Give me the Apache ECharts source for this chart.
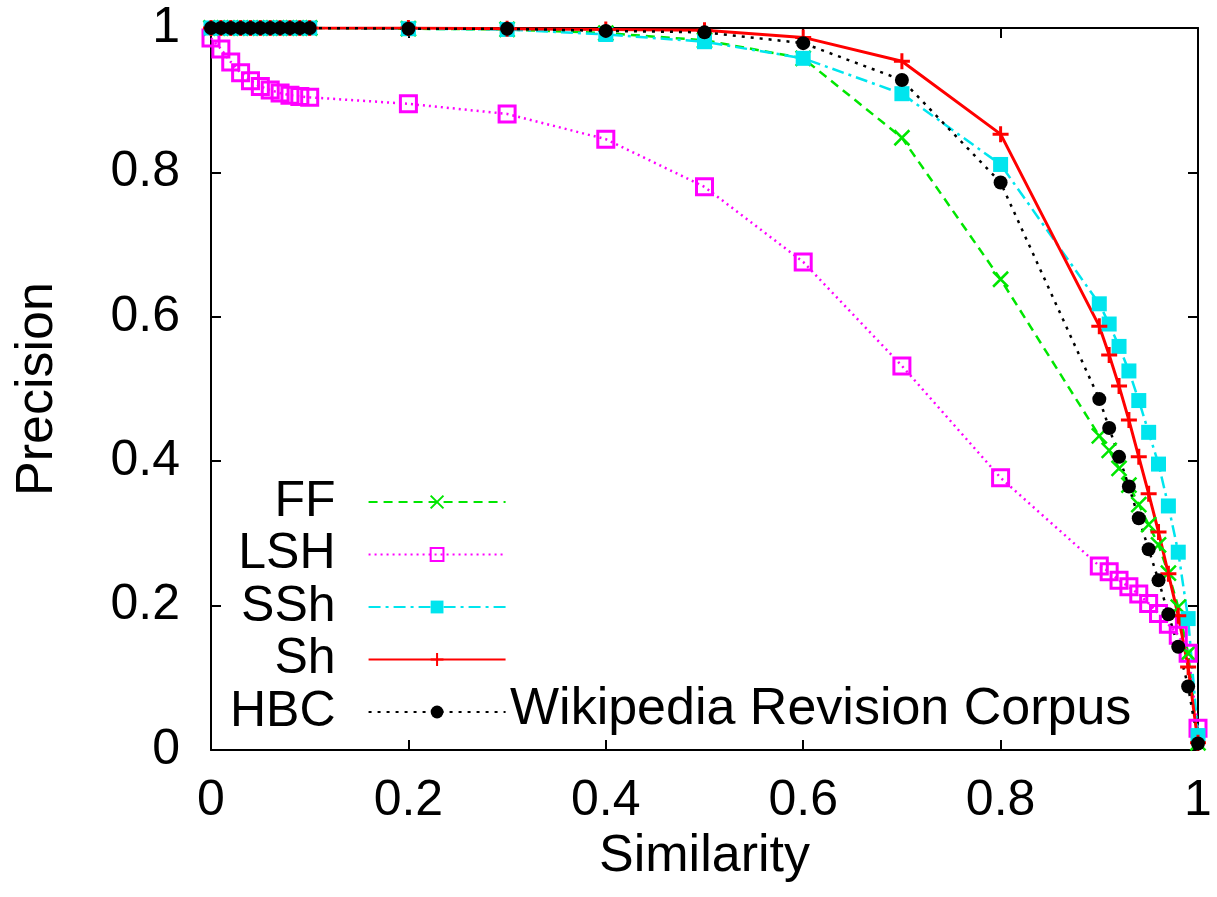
<!DOCTYPE html>
<html>
<head>
<meta charset="utf-8">
<script src="https://cdn.jsdelivr.net/npm/echarts@6/dist/echarts.min.js"></script>
<style>
  html, body { margin: 0; padding: 0; background: #fff; }
  #chart { width: 1217px; height: 897px; }
</style>
</head>
<body>
<div id="chart"></div>
<script>
// similarity thresholds (x)
const similarity = [0, 0.01, 0.02, 0.03, 0.04, 0.05, 0.06, 0.07, 0.08, 0.09, 0.1,
  0.2, 0.3, 0.4, 0.5, 0.6, 0.7, 0.8,
  0.9, 0.91, 0.92, 0.93, 0.94, 0.95, 0.96, 0.97, 0.98, 0.99, 1];

// precision per method
const ffPrec = [1, 1, 1, 1, 1, 1, 1, 1, 1, 1, 1,
  0.999, 0.998, 0.993, 0.983, 0.958, 0.848, 0.652,
  0.435, 0.415, 0.39, 0.367, 0.34, 0.312, 0.284, 0.245, 0.198, 0.134, 0.01];
const lshPrec = [0.986, 0.971, 0.953, 0.938, 0.927, 0.919, 0.914, 0.91, 0.907, 0.905, 0.904,
  0.895, 0.881, 0.846, 0.78, 0.676, 0.532, 0.377,
  0.255, 0.247, 0.235, 0.226, 0.216, 0.203, 0.189, 0.174, 0.159, 0.134, 0.03];
const sshPrec = [1, 1, 1, 1, 1, 1, 1, 1, 1, 1, 1,
  0.999, 0.998, 0.991, 0.981, 0.958, 0.909, 0.811,
  0.618, 0.59, 0.559, 0.525, 0.484, 0.44, 0.396, 0.338, 0.274, 0.182, 0.02];
const shPrec = [1, 1, 1, 1, 1, 1, 1, 1, 1, 1, 1,
  1, 0.999, 0.998, 0.997, 0.987, 0.954, 0.853,
  0.587, 0.547, 0.504, 0.457, 0.406, 0.355, 0.302, 0.244, 0.186, 0.115, 0.01];
const hbcPrec = [1, 1, 1, 1, 1, 1, 1, 1, 1, 1, 1,
  0.999, 0.999, 0.996, 0.994, 0.979, 0.928, 0.786,
  0.486, 0.446, 0.406, 0.365, 0.321, 0.278, 0.235, 0.188, 0.143, 0.088, 0.009];

const methods = ['FF', 'LSH', 'SSh', 'Sh', 'HBC'];
const corpusName = 'Wikipedia Revision Corpus';

const FONT = '"Liberation Sans", Arial, sans-serif';

function pairs(ys) {
  return similarity.map((x, i) => [x, ys[i]]);
}

const chart = echarts.init(document.getElementById('chart'));

const axisBase = {
  type: 'value',
  min: 0,
  max: 1,
  interval: 0.2,
  axisLine: { show: true, onZero: false, lineStyle: { color: '#000', width: 2 } },
  axisTick: { show: true, inside: true, length: 10, lineStyle: { color: '#000', width: 2 } },
  splitLine: { show: false }
};

const option = {
  backgroundColor: '#fff',
  animation: false,
  textStyle: { fontFamily: FONT },
  title: {
    text: corpusName,
    left: 505,
    top: 679,
    textStyle: { fontFamily: FONT, fontSize: 52, fontWeight: 'normal', color: '#000' }
  },
  grid: { left: 211, right: 19, top: 28, bottom: 147 },
  legend: {
    orient: 'vertical',
    left: 225,
    top: 472,
    align: 'right',
    itemWidth: 137,
    itemHeight: 16,
    itemGap: 2.5,
    textStyle: {
      fontFamily: FONT, fontSize: 50, color: '#000', lineHeight: 50,
      padding: [0, 28, 0, 0]
    },
    data: methods
  },
  xAxis: [
    Object.assign({}, axisBase, {
      position: 'bottom',
      name: 'Similarity',
      nameLocation: 'middle',
      nameGap: 66,
      nameTextStyle: { fontFamily: FONT, fontSize: 52, color: '#000' },
      axisLabel: { fontFamily: FONT, fontSize: 50, color: '#000', margin: 26 }
    }),
    Object.assign({}, axisBase, { position: 'top', axisLabel: { show: false } })
  ],
  yAxis: [
    Object.assign({}, axisBase, {
      position: 'left',
      name: 'Precision',
      nameLocation: 'middle',
      nameGap: 147,
      nameTextStyle: { fontFamily: FONT, fontSize: 52, color: '#000' },
      axisLabel: { fontFamily: FONT, fontSize: 50, color: '#000', margin: 31 }
    }),
    Object.assign({}, axisBase, { position: 'right', axisLabel: { show: false } })
  ],
  series: [
    {
      name: 'FF', type: 'line', data: pairs(ffPrec),
      symbol: 'path://M0,0L10,10M10,0L0,10', symbolSize: 15,
      lineStyle: { color: '#00e600', width: 2.5, type: [9, 6] },
      itemStyle: { color: '#00e600', borderColor: '#00e600', borderWidth: 2.5 }
    },
    {
      name: 'LSH', type: 'line', data: pairs(lshPrec),
      symbol: 'rect', symbolSize: 16,
      lineStyle: { color: '#ff00ff', width: 2.5, type: [2, 4] },
      itemStyle: { color: 'rgba(255,255,255,0)', borderColor: '#ff00ff', borderWidth: 3 }
    },
    {
      name: 'SSh', type: 'line', data: pairs(sshPrec),
      symbol: 'rect', symbolSize: 15,
      lineStyle: { color: '#00e5ee', width: 2.5, type: [12, 5, 3, 5] },
      itemStyle: { color: '#00e5ee' }
    },
    {
      name: 'Sh', type: 'line', data: pairs(shPrec),
      symbol: 'path://M5,0L5,10M0,5L10,5', symbolSize: 16,
      lineStyle: { color: '#ff0000', width: 3 },
      itemStyle: { color: '#ff0000', borderColor: '#ff0000', borderWidth: 3 }
    },
    {
      name: 'HBC', type: 'line', data: pairs(hbcPrec),
      symbol: 'circle', symbolSize: 14,
      lineStyle: { color: '#000', width: 2.5, type: [3, 6] },
      itemStyle: { color: '#000' }
    }
  ]
};

chart.setOption(option);
</script>
</body>
</html>
